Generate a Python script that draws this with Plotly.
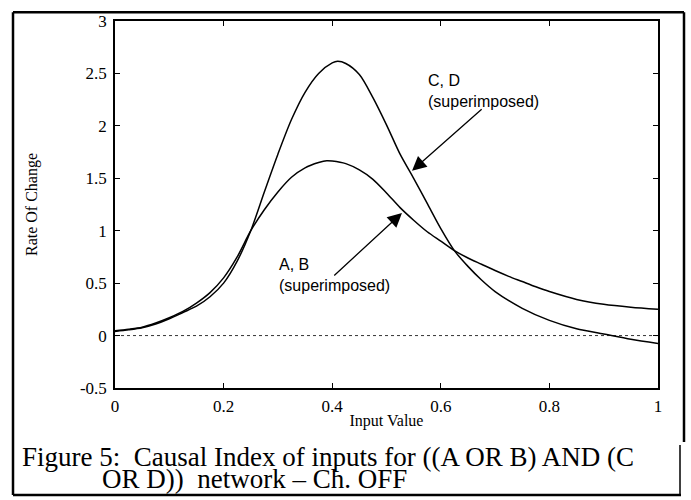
import plotly.graph_objects as go

# ---- data ----
x_ab = [0.0, 0.025, 0.05, 0.075, 0.1, 0.125, 0.15, 0.175, 0.2, 0.225, 0.25, 0.275, 0.3, 0.325, 0.35, 0.375, 0.39,
        0.4, 0.425, 0.45, 0.475, 0.5, 0.525, 0.55, 0.575, 0.6, 0.625, 0.65, 0.675, 0.7, 0.725, 0.75, 0.775, 0.8,
        0.85, 0.9, 0.95, 1.0]
y_ab = [0.045, 0.06, 0.08, 0.12, 0.17, 0.23, 0.31, 0.41, 0.55, 0.75, 1.0, 1.2, 1.37, 1.51, 1.60, 1.65, 1.668,
        1.665, 1.64, 1.58, 1.49, 1.36, 1.22, 1.10, 0.99, 0.90, 0.81, 0.74, 0.68, 0.62, 0.565, 0.515, 0.465, 0.42,
        0.345, 0.298, 0.27, 0.25]

x_cd = [0.0, 0.025, 0.05, 0.075, 0.1, 0.125, 0.15, 0.175, 0.2, 0.225, 0.25, 0.275, 0.3, 0.325, 0.35, 0.375, 0.4,
        0.41, 0.425, 0.45, 0.475, 0.5, 0.525, 0.55, 0.575, 0.6, 0.625, 0.65, 0.675, 0.7, 0.75, 0.8, 0.85, 0.9,
        0.95, 1.0]
y_cd = [0.04, 0.055, 0.075, 0.11, 0.16, 0.22, 0.28, 0.37, 0.50, 0.71, 1.0, 1.37, 1.73, 2.06, 2.32, 2.50, 2.60,
        2.615, 2.595, 2.49, 2.27, 2.01, 1.73, 1.50, 1.26, 1.02, 0.81, 0.66, 0.53, 0.42, 0.26, 0.145, 0.065, 0.015,
        -0.035, -0.075]

zero_x = [0.0, 1.0]
zero_y = [0.0, 0.0]

x_ticks = [0, 0.2, 0.4, 0.6, 0.8, 1]
x_tick_text = ["0", "0.2", "0.4", "0.6", "0.8", "1"]
y_ticks = [-0.5, 0, 0.5, 1, 1.5, 2, 2.5, 3]
y_tick_text = ["-0.5", "0", "0.5", "1", "1.5", "2", "2.5", "3"]

caption_line1 = "Figure 5:\u00a0 Causal Index of inputs for ((A OR B) AND (C"
caption_line2 = "OR D))\u00a0 network \u2013 Ch. OFF"

serif = "Liberation Serif, Times New Roman, serif"
sans = "Liberation Sans, Arial, sans-serif"

fig = go.Figure()
fig.add_trace(go.Scatter(x=zero_x, y=zero_y, mode="lines",
                         line=dict(color="black", width=0.8, dash="dot"), hoverinfo="skip"))
fig.add_trace(go.Scatter(x=x_ab, y=y_ab, mode="lines",
                         line=dict(color="black", width=1.5, shape="spline", smoothing=0.8)))
fig.add_trace(go.Scatter(x=x_cd, y=y_cd, mode="lines",
                         line=dict(color="black", width=1.5, shape="spline", smoothing=0.8)))

ML, MR, MT, MB = 115, 33, 14, 112
W, H = 691, 500
PW, PH = W - ML - MR, H - MT - MB

def px(xp):
    return (xp - ML) / PW

def py(yp):
    return (H - MB - yp) / PH

axis_common = dict(showgrid=False, zeroline=False, showline=True, linecolor="black", linewidth=1.5,
                   mirror="ticks", ticks="inside", ticklen=5, tickcolor="black", tickwidth=1,
                   tickfont=dict(family=serif, size=17, color="black"))

fig.update_xaxes(range=[0, 1], tickvals=x_ticks, ticktext=x_tick_text, ticklabelstandoff=2,
                 title=dict(text="Input Value", font=dict(family=serif, size=16, color="black"), standoff=0),
                 **axis_common)
fig.update_yaxes(range=[-0.5, 3], tickvals=y_ticks, ticktext=y_tick_text, ticklabelstandoff=3,
                 title=dict(text="Rate Of Change", font=dict(family=serif, size=16, color="black"), standoff=38),
                 **axis_common)

annotations = [
    # arrows
    dict(x=0.547, y=1.572, ax=0.678, ay=2.17, xref="x", yref="y", axref="x", ayref="y",
         showarrow=True, arrowhead=2, arrowsize=2.2, arrowwidth=1.3, arrowcolor="black", text=""),
    dict(x=0.5285, y=1.17, ax=0.401, ay=0.56, xref="x", yref="y", axref="x", ayref="y",
         showarrow=True, arrowhead=2, arrowsize=2.2, arrowwidth=1.3, arrowcolor="black", text=""),
    # labels
    dict(x=0.573, y=2.33, xref="x", yref="y", text="C, D<br>(superimposed)", showarrow=False,
         xanchor="left", yanchor="middle", align="left", font=dict(family=sans, size=16, color="black")),
    dict(x=0.298, y=0.575, xref="x", yref="y", text="A, B<br>(superimposed)", showarrow=False,
         xanchor="left", yanchor="middle", align="left", font=dict(family=sans, size=16, color="black")),
    # caption
    dict(x=px(20), y=py(458), xref="paper", yref="paper", text=caption_line1, showarrow=False,
         xanchor="left", yanchor="middle", font=dict(family=serif, size=27, color="black")),
    dict(x=px(100), y=py(481), xref="paper", yref="paper", text=caption_line2, showarrow=False,
         xanchor="left", yanchor="middle", font=dict(family=serif, size=27, color="black")),
]

shapes = [
    dict(type="line", xref="paper", yref="paper", x0=px(13), x1=px(684), y0=py(5), y1=py(5), line=dict(color="black", width=2.5)),
    dict(type="line", xref="paper", yref="paper", x0=px(13), x1=px(13), y0=py(5), y1=py(497), line=dict(color="black", width=2.5)),
    dict(type="line", xref="paper", yref="paper", x0=px(13), x1=px(681), y0=py(497), y1=py(497), line=dict(color="black", width=2.5)),
    dict(type="line", xref="paper", yref="paper", x0=px(684), x1=px(684), y0=py(5), y1=py(443), line=dict(color="black", width=2.5)),
    dict(type="line", xref="paper", yref="paper", x0=px(680), x1=px(680), y0=py(446), y1=py(497), line=dict(color="black", width=1.5)),
]

fig.update_layout(width=W, height=H, margin=dict(l=ML, r=MR, t=MT, b=MB),
                  paper_bgcolor="white", plot_bgcolor="white", showlegend=False,
                  annotations=annotations, shapes=shapes)

fig.write_html("out.html")
